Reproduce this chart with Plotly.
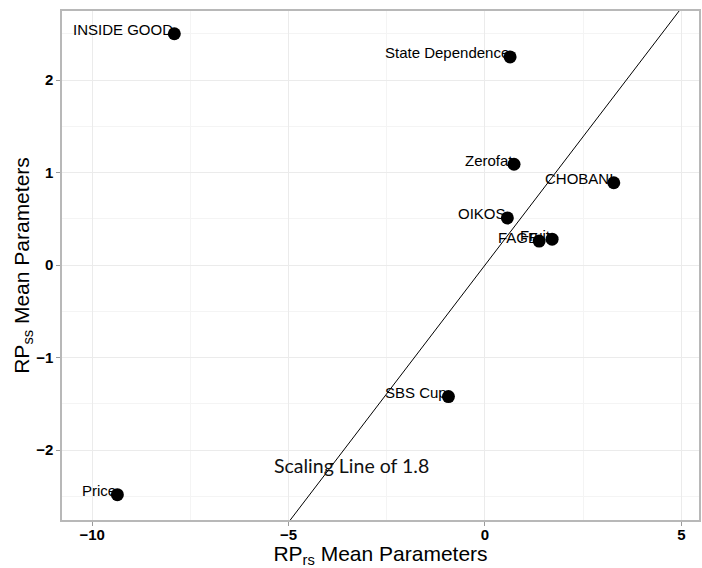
import plotly.graph_objects as go

labels = ["INSIDE GOOD", "State Dependence", "Zerofat", "CHOBANI", "OIKOS",
          "Fruit", "FAGE", "SBS Cup", "Price"]
rp_rs = [-7.91, 0.64, 0.74, 3.28, 0.57, 1.71, 1.38, -0.93, -9.36]
rp_ss = [2.50, 2.25, 1.09, 0.89, 0.51, 0.28, 0.26, -1.42, -2.48]
scaling = 1.8
x_range = [-10.77, 5.45]
y_range = [-2.754, 2.746]

fig = go.Figure()

# scaling line y = x / 1.8
line_y = [y_range[0], y_range[1]]
line_x = [v * scaling for v in line_y]
fig.add_trace(go.Scatter(x=line_x, y=line_y, mode="lines",
                         line=dict(color="black", width=1), hoverinfo="skip",
                         showlegend=False))

fig.add_trace(go.Scatter(x=rp_rs, y=rp_ss, mode="markers",
                         marker=dict(color="black", size=13),
                         showlegend=False))

for lab, x, y in zip(labels, rp_rs, rp_ss):
    fig.add_annotation(x=x, y=y, text=lab, showarrow=False, xanchor="right",
                       yanchor="middle", xshift=1, yshift=4,
                       font=dict(family="Liberation Sans, Arial", size=15, color="black"))

fig.add_annotation(x=-3.40, y=-2.16, text="Scaling Line of 1.8", showarrow=False,
                   xanchor="center", yanchor="middle",
                   font=dict(family="Lato, Open Sans", size=19.5, color="#111111"))

axis_common = dict(
    showline=True, linecolor="#b8b8b8", linewidth=1.5, mirror=True,
    ticks="outside", ticklen=4, tickcolor="#9a9a9a",
    showgrid=True, gridcolor="#ebebeb", gridwidth=1,
    zeroline=False,
    tickfont=dict(family="Liberation Sans, Arial", size=15, color="black", weight="bold"),
    minor=dict(showgrid=True, gridcolor="#f4f4f4", gridwidth=1),
)

fig.update_xaxes(range=x_range, tickvals=[-10, -5, 0, 5], **axis_common,
                 ticklabelstandoff=-4,
                 title=dict(text="RP<sub>rs</sub> Mean Parameters", standoff=0,
                            font=dict(family="Liberation Sans, Arial", size=21, color="black")))
fig.update_xaxes(minor=dict(tickvals=[-7.5, -2.5, 2.5], ticks=""))
fig.update_yaxes(range=y_range, tickvals=[-2, -1, 0, 1, 2], **axis_common,
                 title=dict(text="RP<sub>ss</sub> Mean Parameters", standoff=1,
                            font=dict(family="Liberation Sans, Arial", size=21, color="black")))
fig.update_yaxes(minor=dict(tickvals=[-2.5, -1.5, -0.5, 0.5, 1.5, 2.5], ticks=""))

fig.update_layout(width=702, height=568, margin=dict(l=62, r=1, t=11, b=48),
                  plot_bgcolor="white", paper_bgcolor="white")

fig.write_html("out.html")
